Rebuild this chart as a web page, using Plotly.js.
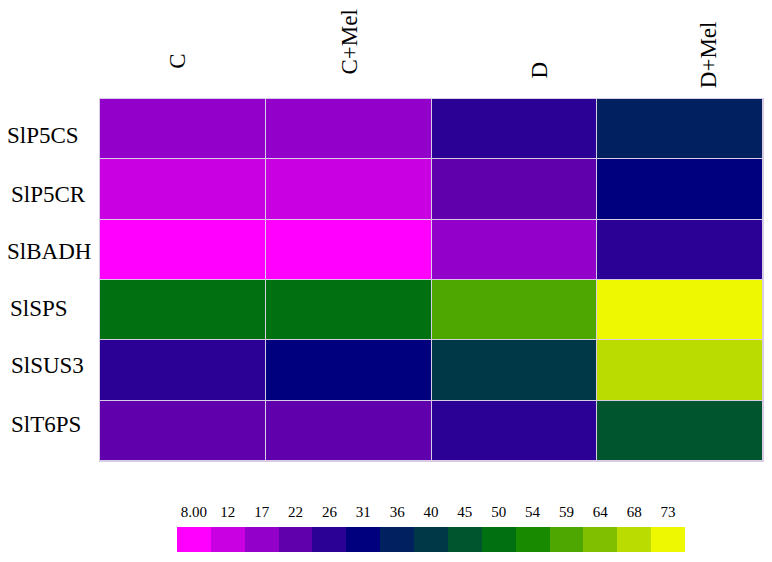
<!DOCTYPE html>
<html>
<head>
<meta charset="utf-8">
<script src="https://cdn.plot.ly/plotly-3.0.1.min.js"></script>
<style>html,body{margin:0;padding:0;background:#fff;}#chart{width:772px;height:562px;}</style>
</head>
<body>
<div id="chart"></div>
<script>
// ---- data ----
const treatments = ["C", "C+Mel", "D", "D+Mel"];
const genes = ["SlP5CS", "SlP5CR", "SlBADH", "SlSPS", "SlSUS3", "SlT6PS"];
const valSlP5CS = [17, 17, 27, 36];
const valSlP5CR = [13, 13, 22, 31];
const valSlBADH = [8, 8, 17, 27];
const valSlSPS  = [50, 50, 59, 73];
const valSlSUS3 = [27, 31, 40, 68];
const valSlT6PS = [22, 22, 27, 45];
const legendLabels = ["8.00", "12", "17", "22", "26", "31", "36", "40", "45", "50", "54", "59", "64", "68", "73"];
const legendValues = [8, 12.6, 17.3, 21.9, 26.6, 31.2, 35.9, 40.5, 45.1, 49.8, 54.4, 59.1, 63.7, 68.4, 73];
const binColors = ["#FF00FF", "#C900E2", "#9200CA", "#5F00AC", "#2B0094", "#00007E", "#002060",
                   "#003848", "#00542E", "#007010", "#188A00", "#4EA600", "#80BE00", "#BADC00", "#EEF800"];

// ---- build ----
const zmin = 5.68, zmax = 75.32;
const colorscale = [];
binColors.forEach((c, i) => {
  colorscale.push([i / binColors.length, c]);
  colorscale.push([(i + 1) / binColors.length, c]);
});
const z = [valSlP5CS, valSlP5CR, valSlBADH, valSlSPS, valSlSUS3, valSlT6PS];
const serif = "Liberation Serif, Times New Roman, serif";

const main = {
  type: "heatmap", x: treatments, y: genes, z: z,
  colorscale: colorscale, zmin: zmin, zmax: zmax, showscale: false,
  xgap: 1, ygap: 1, xaxis: "x", yaxis: "y", hoverinfo: "x+y+z"
};
const legend = {
  type: "heatmap", x: legendLabels, y: ["scale"], z: [legendValues],
  colorscale: colorscale, zmin: zmin, zmax: zmax, showscale: false,
  xaxis: "x2", yaxis: "y2", hoverinfo: "z"
};

const colShift = [-5, 1, 25, 28];
const colY = [1.084, 1.126, 1.064, 1.097];
const rowXShift = [0, 4, 0, 3, 4, 4];
const rowYShift = [-6, -5, -2, 2, 5, 6];
const annotations = [];
treatments.forEach((t, i) => annotations.push({
  x: t, xref: "x", y: colY[i], yref: "paper", text: t, textangle: -90,
  showarrow: false, xanchor: "center", yanchor: "middle", xshift: colShift[i],
  font: {family: serif, size: 23, color: "#000"}
}));
genes.forEach((g, i) => annotations.push({
  x: -0.1435, xref: "paper", y: g, yref: "y", text: g, showarrow: false,
  xanchor: "left", yanchor: "middle", xshift: rowXShift[i], yshift: rowYShift[i],
  font: {family: serif, size: 23, color: "#000"}
}));

const layout = {
  width: 772, height: 562,
  margin: {l: 100, r: 9, t: 99, b: 10},
  paper_bgcolor: "#ffffff", plot_bgcolor: "#d8cce4",
  showlegend: false,
  xaxis: {domain: [0, 1], showticklabels: false, ticks: "", showgrid: false, zeroline: false,
          showline: true, mirror: true, linecolor: "#d8cce4", linewidth: 1, anchor: "y"},
  yaxis: {domain: [0.2009, 1], autorange: "reversed", showticklabels: false, ticks: "",
          showgrid: false, zeroline: false, showline: true, mirror: true, linecolor: "#d8cce4",
          linewidth: 1, anchor: "x"},
  xaxis2: {domain: [0.1161, 0.8824], anchor: "y2", side: "top", type: "category", ticks: "",
           showgrid: false, zeroline: false, showline: false,
           tickfont: {family: serif, size: 15, color: "#000"}, ticklabelstandoff: 6},
  yaxis2: {domain: [0, 0.0552], anchor: "x2", showticklabels: false, ticks: "", showgrid: false,
           zeroline: false},
  annotations: annotations
};

Plotly.newPlot("chart", [main, legend], layout, {displayModeBar: false, staticPlot: true});
</script>
</body>
</html>
